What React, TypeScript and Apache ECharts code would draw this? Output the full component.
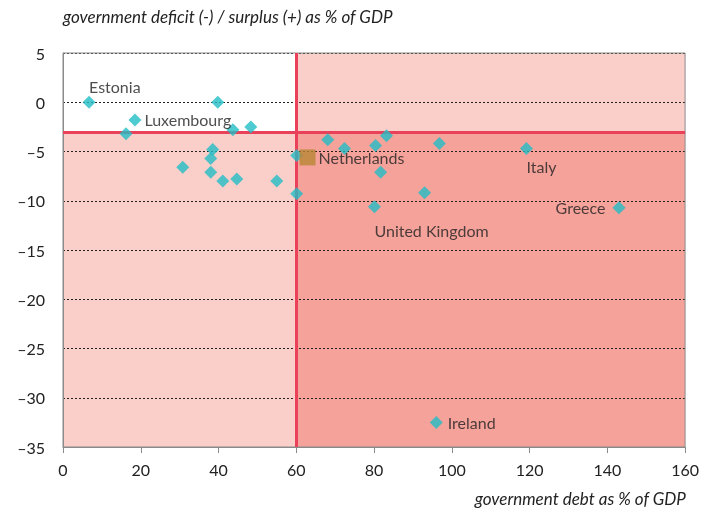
import React, { useEffect, useRef } from "react";
import * as echarts from "echarts";

const debt = [6.7, 39.8, 18.5, 16.2, 43.7, 48.3, 30.8, 38.5, 38.0, 38.0, 41.1, 44.7, 55.0, 60.1, 60.1, 68.1, 72.4, 80.4, 83.2, 96.8, 119.2, 81.7, 93.0, 80.1, 143.0, 96.0];
const deficit = [0.0, 0.0, -1.8, -3.2, -2.8, -2.5, -6.6, -4.8, -5.7, -7.1, -8.0, -7.8, -8.0, -9.3, -5.4, -3.8, -4.7, -4.4, -3.4, -4.2, -4.7, -7.1, -9.2, -10.6, -10.7, -32.5];
const names = ["Estonia", "", "Luxembourg", "", "", "", "", "", "", "", "", "", "", "", "", "", "", "", "", "", "Italy", "", "", "United Kingdom", "Greece", "Ireland"];
const highlightName = "Netherlands";
const highlightPoint = [62.9, -5.6];
const debtLimit = 60;
const deficitLimit = -3;
const xTicks = [0, 20, 40, 60, 80, 100, 120, 140, 160];
const yTicks = [5, 0, -5, -10, -15, -20, -25, -30, -35];

const FONT = "Lato, sans-serif";
const TXT = "#222222";

const labelPos: Record<string, any> = {
  Estonia: { position: "top", align: "left", distance: 1 },
  Luxembourg: { position: "right", distance: 3 },
  Italy: { position: "bottom", align: "left", distance: 3 },
  "United Kingdom": { position: "bottom", align: "left", distance: 9 },
  Greece: { position: "left", distance: 7 },
  Ireland: { position: "right", distance: 5 },
};

export default function App() {
  const ref = useRef<HTMLDivElement>(null);
  useEffect(() => {
    const chart = echarts.init(ref.current!, null, { renderer: "svg" });
    const pts = debt.map((d, i) => {
      const n = names[i];
      const item: any = { value: [d, deficit[i]], name: n };
      if (n) {
        item.label = {
          show: true,
          formatter: n,
          color: TXT,
          fontSize: 16,
          fontFamily: FONT,
          ...labelPos[n],
        };
      }
      return item;
    });
    chart.setOption({
      animation: false,
      grid: {
        left: 63,
        right: 16,
        top: 53,
        bottom: 61,
        show: true,
        borderColor: "#8a8a8a",
        borderWidth: 1,
        backgroundColor: "transparent",
        z: 3,
      },
      graphic: [
        {
          type: "text",
          left: 63,
          top: 8,
          style: {
            text: "government deficit (-) / surplus (+) as % of GDP",
            font: `italic 17px ${FONT}`,
            fill: TXT,
          },
        },
        {
          type: "text",
          right: 16,
          top: 490,
          style: {
            text: "government debt as % of GDP",
            font: `italic 17px ${FONT}`,
            fill: TXT,
          },
        },
      ],
      xAxis: {
        type: "value",
        min: xTicks[0],
        max: xTicks[xTicks.length - 1],
        interval: 20,
        z: 3,
        axisLine: { show: true, onZero: false, lineStyle: { color: "#8a8a8a" } },
        axisTick: { show: true, length: 6, lineStyle: { color: "#8a8a8a" } },
        axisLabel: { color: TXT, fontSize: 16, fontFamily: FONT, margin: 14 },
        splitLine: { show: false },
      },
      yAxis: {
        type: "value",
        min: yTicks[yTicks.length - 1],
        max: yTicks[0],
        interval: 5,
        z: 2,
        axisLine: { show: true, lineStyle: { color: "#8a8a8a" } },
        axisTick: { show: false },
        axisLabel: {
          color: TXT,
          fontSize: 16,
          fontFamily: FONT,
          margin: 18,
          formatter: (v: number) => String(v).replace("-", "\u2013"),
        },
        splitLine: {
          show: true,
          lineStyle: { color: "#222", type: [2, 2], width: 1 },
        },
      },
      series: [
        {
          type: "scatter",
          data: [],
          z: 1,
          silent: true,
          markArea: {
            silent: true,
            data: [
              [
                { xAxis: xTicks[0], yAxis: yTicks[yTicks.length - 1], itemStyle: { color: "#fbcfc9" } },
                { xAxis: debtLimit, yAxis: deficitLimit },
              ],
              [
                { xAxis: debtLimit, yAxis: deficitLimit, itemStyle: { color: "#fbcfc9" } },
                { xAxis: xTicks[xTicks.length - 1], yAxis: yTicks[0] },
              ],
              [
                { xAxis: debtLimit, yAxis: yTicks[yTicks.length - 1], itemStyle: { color: "#f5a29a" } },
                { xAxis: xTicks[xTicks.length - 1], yAxis: deficitLimit },
              ],
            ],
          },
        },
        {
          type: "scatter",
          data: [],
          z: 4,
          silent: true,
          markLine: {
            silent: true,
            symbol: "none",
            label: { show: false },
            lineStyle: { color: "#e9415a", width: 3, type: "solid" },
            data: [{ xAxis: debtLimit }, { yAxis: deficitLimit }],
          },
        },
        {
          type: "scatter",
          z: 5,
          symbol: "diamond",
          symbolSize: 13,
          itemStyle: { color: "#22bdc5" },
          data: pts,
        },
        {
          type: "scatter",
          z: 6,
          symbol: "rect",
          symbolSize: 16,
          itemStyle: { color: "#b88634" },
          label: {
            show: true,
            position: "right",
            distance: 3,
            formatter: highlightName,
            color: TXT,
            fontSize: 16,
            fontFamily: FONT,
          },
          data: [{ value: highlightPoint, name: highlightName }],
        },
      ],
    });
    return () => chart.dispose();
  }, []);
  return (
    <div
      ref={ref}
      style={{ position: "fixed", left: 0, top: 0, width: 702, height: 508 }}
    />
  );
}
